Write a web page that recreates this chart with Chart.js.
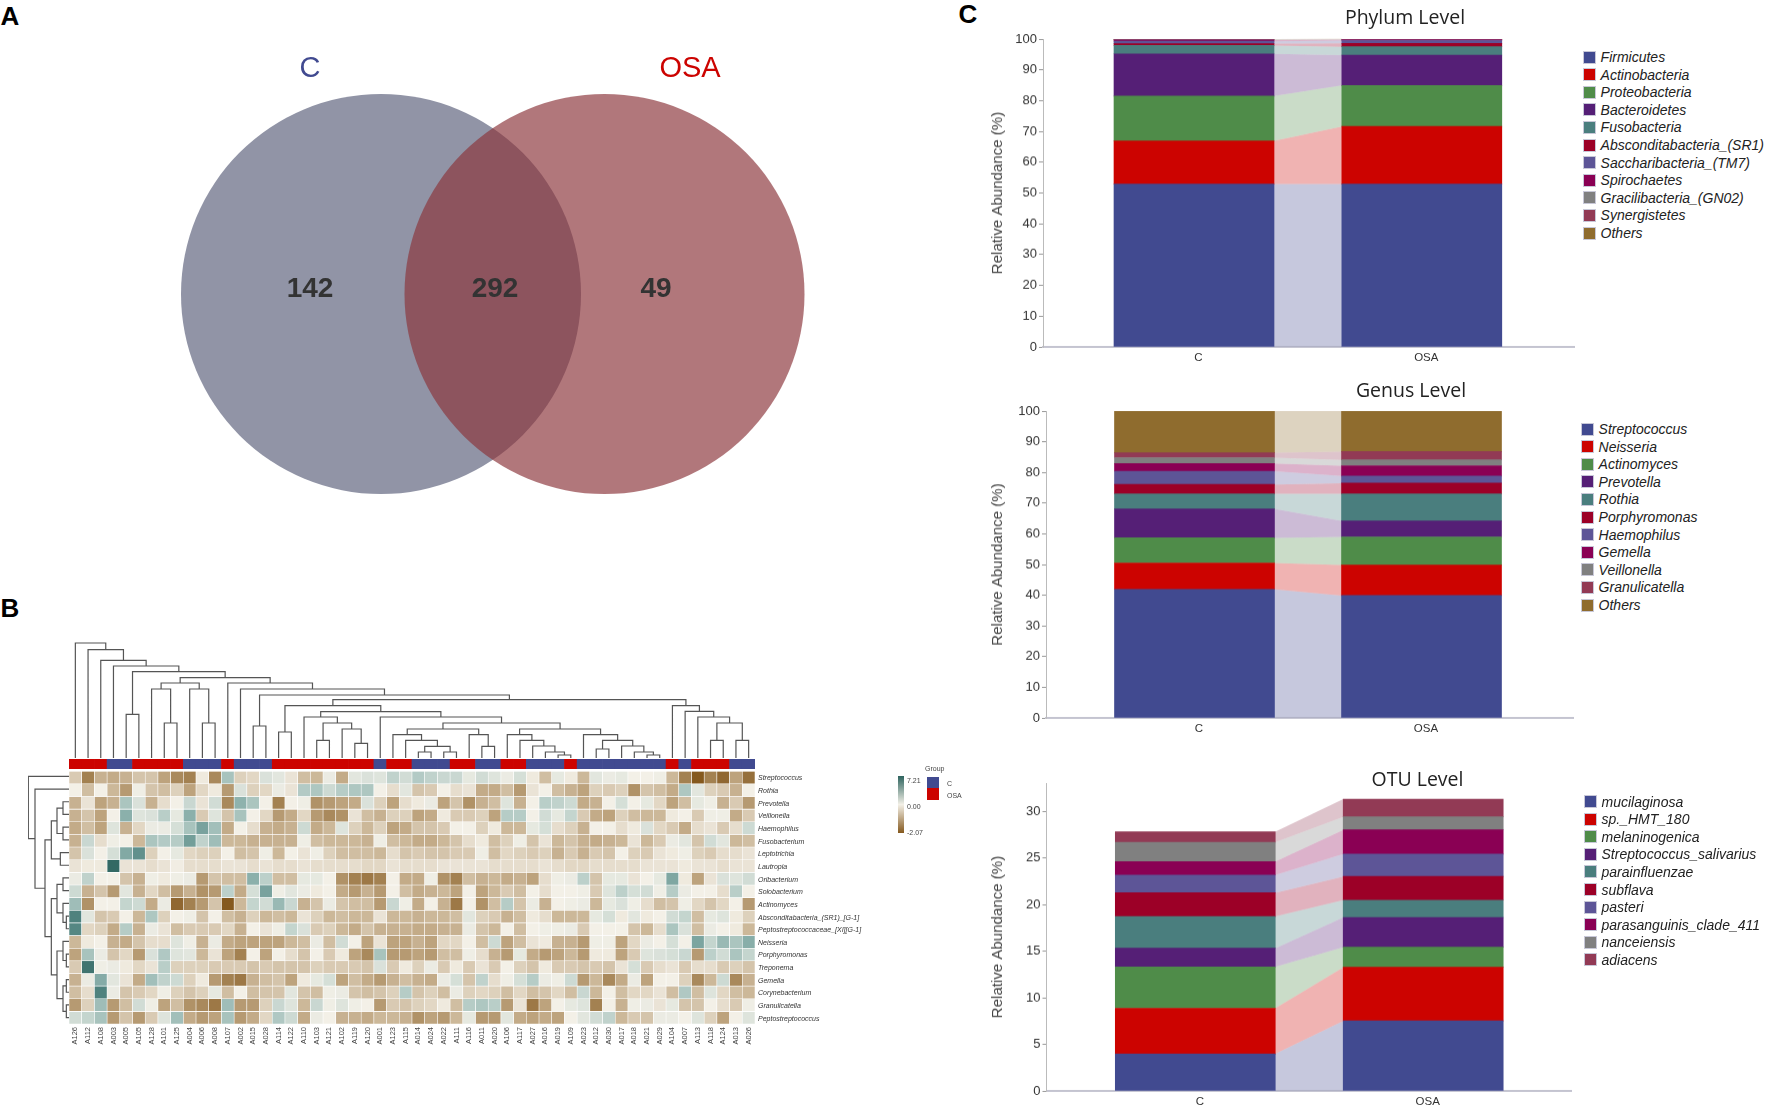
<!DOCTYPE html>
<html lang="en">
<head>
<meta charset="UTF-8">
<title>Oral microbiome: Venn, heatmap and relative abundance</title>
<script src="https://cdn.jsdelivr.net/npm/chart.js"></script>
<style>
  html, body { margin: 0; background: #fff; }
  #page { position: relative; width: 1772px; height: 1111px; overflow: hidden; font-family: "Liberation Sans", sans-serif; }
  canvas { position: absolute; }
  .t { position: absolute; white-space: nowrap; line-height: 1; }
  .mid { transform: translate(-50%, -50%); }
  .sw { position: absolute; box-sizing: border-box; }
</style>
</head>
<body>
<div id="page"></div>
<script>
// Venn
const vennSets = ['C', 'OSA'];
const vennX = [0, 223.5];
const vennR = [200, 200];
const vennFill = ['#9194a6', 'rgba(138,52,58,0.67)'];
const vennCounts = ['142', '292', '49'];

// Relative abundance
const groups = ['C', 'OSA'];
const phylumNames = ['Firmicutes', 'Actinobacteria', 'Proteobacteria', 'Bacteroidetes', 'Fusobacteria', 'Absconditabacteria_(SR1)', 'Saccharibacteria_(TM7)', 'Spirochaetes', 'Gracilibacteria_(GN02)', 'Synergistetes', 'Others'];
const phylumC = [52.9, 14.0, 14.6, 13.7, 2.7, 0.6, 0.8, 0.4, 0.1, 0.1, 0.1];
const phylumOSA = [52.9, 18.7, 13.3, 9.9, 2.7, 1.1, 0.9, 0.3, 0.1, 0.05, 0.15];
const genusNames = ['Streptococcus', 'Neisseria', 'Actinomyces', 'Prevotella', 'Rothia', 'Porphyromonas', 'Haemophilus', 'Gemella', 'Veillonella', 'Granulicatella', 'Others'];
const genusC = [41.9, 8.6, 8.2, 9.4, 4.9, 3.1, 4.3, 2.5, 1.9, 1.6, 13.6];
const genusOSA = [39.9, 9.9, 9.2, 5.2, 8.8, 3.5, 2.3, 3.4, 1.9, 2.7, 13.2];
const otuNames = ['mucilaginosa', 'sp._HMT_180', 'melaninogenica', 'Streptococcus_salivarius', 'parainfluenzae', 'subflava', 'pasteri', 'parasanguinis_clade_411', 'nanceiensis', 'adiacens'];
const otuC = [3.97, 4.91, 4.44, 2.0, 3.4, 2.55, 1.9, 1.46, 2.07, 1.12];
const otuOSA = [7.52, 5.76, 2.15, 3.19, 1.86, 2.54, 2.4, 2.61, 1.4, 1.9];
const stackColors = ['#414a90', '#cc0300', '#4f8c49', '#551f76', '#4a7e7e', '#9c0027', '#5d5597', '#8a0054', '#808080', '#923a55', '#8f6c2e'];

// Heatmap
const sampleIds = ['A126','A112','A108','A003','A005','A105','A128','A101','A125','A004','A006','A008','A107','A002','A015','A028','A114','A122','A110','A103','A121','A102','A119','A120','A001','A123','A115','A014','A024','A022','A111','A116','A011','A020','A106','A117','A027','A016','A019','A109','A023','A012','A030','A017','A018','A021','A029','A104','A007','A113','A118','A124','A013','A026'];
const sampleGroup = 'OOOCCOOOOCCCOCCCOOOOOOOOCOOCCCOOCCOOCCCOCCCCCCCOCOOOCC'.split('');
const rowNames = ['Streptococcus','Rothia','Prevotella','Veillonella','Haemophilus','Fusobacterium','Leptotrichia','Lautropia','Oribacterium','Solobacterium','Actinomyces','Absconditabacteria_(SR1)_[G-1]','Peptostreptococcaceae_[XI][G-1]','Neisseria','Porphyromonas','Treponema','Gemella','Corynebacterium','Granulicatella','Peptostreptococcus'];
const streptococcus = [-.6,-1.6,-1,-1.1,-1,-.7,-.7,-1.2,-1.5,-1.6,-.1,-1.5,2,-.5,-.4,.6,.4,-.2,-.8,-.9,.2,-1.1,.4,.6,.5,1.2,.8,1.6,1.2,1,1,.3,.8,.5,.2,.7,-.1,-.8,.3,-.1,-.9,.4,.2,.3,0,0,.1,-.9,-1.6,-2.07,-1.6,-1.9,-1.2,-1.8];
const rothia = [0,-.8,0,-.9,-1.3,.1,-.7,-.8,-.5,-1.2,-.4,-.1,-1.3,.6,-.5,-.4,.2,-.2,1.6,1.8,.9,1.5,1.8,1.8,0,-.3,.4,-.7,-.6,0,-.3,-.2,-1.1,-1.1,-.8,-1.3,-.2,0,-.8,-1,-1.2,-.5,-.6,-.5,-1.4,-.7,-.8,-1.1,1.8,.4,-.5,-.6,-1,0];
const prevotella = [-1,-.2,-1.2,-1,1.9,.6,-1,-.3,0,1,-.2,.8,-1.5,2.9,1.9,0,-1.6,0,.1,-1.4,-1.3,-1.2,-1.1,.6,-.5,-1.2,-.3,-.1,.2,-1.2,-.7,-1.4,-1,-.8,.5,-1,0,1.4,1.2,.9,-1.1,-1,0,.7,0,.3,-.4,-1.2,-.8,.3,.1,-1,-.6,-1.3];
const veillonella = [-1,-.7,-1.2,0,3,.5,.6,1.4,.3,3,-.6,.5,-.7,2,0,-.4,-1.3,-1.1,-.4,-1.3,-1.5,-1.4,-.2,-.8,-1,-.5,-.5,-1.2,-1.1,-.1,-.6,-.6,-.5,-1.2,1.5,1.5,0,.8,.3,1.1,-.6,-1.1,-1.2,-.5,-.8,-.9,-.9,-.1,0,-.6,.1,.1,-1.1,-.6];
const haemophilus = [-1.1,-.8,-1.2,.5,-1,-.4,.2,.2,.7,2,3.6,2.2,-1.1,0,-.3,-1,-1.1,-1,.9,-1.1,-.9,.5,-.5,-.9,-.5,-1.2,-1.1,-.7,-.7,-.6,0,0,-.5,-.1,-.9,-.9,.3,.7,-.3,-.5,-1,0,0,-.3,-.1,.6,-.4,-.6,-1.1,-.3,-.2,-.6,-.3,.9];
const fusobacterium = [-1,1,-.3,.1,0,-.9,1.9,1.6,1.5,3.8,1.2,2.3,-.9,-.9,-1,-1,-1,-1,.1,-.8,-.9,-.9,-.9,-1,.1,-.8,-.9,-1.1,-1.1,-.9,-.7,-.3,-.1,-.8,-.5,.1,-.7,-.2,-.9,-.7,-1,-1.1,-1,-.9,-.2,-.9,-.6,.2,.4,-.7,.8,.4,-.9,-.8];
const leptotrichia = [-.7,.6,0,.7,3.3,4.4,-.5,0,.3,-.4,-.5,-.5,0,-.8,-.7,.1,-.9,0,-.2,.1,-.5,-.8,-.8,-.8,-.9,-.3,-.7,-.6,-.7,-.7,-.6,-.6,.1,-.8,-.4,-.5,-.6,-.5,-1,-.6,-1,-.6,-.7,0,-.5,-.6,-.2,-.1,.1,-.5,-.6,-.3,-.3,-.2];
const lautropia = [-.2,-.1,-.1,6.8,-.2,-.2,-.3,-.2,-.05,-.3,-.3,-.3,-.2,-.2,-.3,-.2,-.3,-.3,-.2,-.3,-.3,-.3,-.3,-.4,-.4,-.2,-.3,-.3,-.3,-.2,-.2,-.2,-.2,-.3,-.3,-.3,-.3,-.2,-.3,-.4,-.4,-.3,-.3,-.3,-.3,-.2,-.2,-.2,-.1,-.2,-.2,-.3,-.2,-.2];
const oribacterium = [.2,1.2,0,0,-.7,-1,.1,-.1,.1,.2,-1.3,-.7,-.8,-.8,3,1.3,-.8,-.8,.3,.3,0,-1.4,-1.6,-1.7,-1.6,0,-1.1,-1.1,.1,-1.4,-1.6,-.8,-1,-.9,-1.1,-1,-1.2,-.3,.1,.2,1.3,-.7,.3,.3,-.2,0,.3,3.4,-.1,-1.2,-.2,.6,.5,.8];
const solobacterium = [.9,-1,-.7,-1.3,.4,-1,-.4,-.8,-1.3,-1,-1.4,-1.3,1.3,-1.1,.7,3.6,.1,.4,.2,-.1,0,-1.1,-1.3,-1,-1.3,0,-.8,-1.1,-1,-.9,-1.2,0,-1.2,-.9,-.6,-.8,0,-.3,0,0,.1,-.6,.5,1.3,.7,.8,.1,1.5,.2,0,0,-.3,1.4,0];
const actinomyces = [2.3,-1.4,0,0,1.1,.9,-1.1,.2,-1.9,-1.6,-1.3,-.7,-2.07,-.9,1.1,.8,2.5,1,-1,-.7,.2,-.7,-.8,-.8,-1.3,1,.1,-1.1,0,-1,-1.7,0,-1.4,-.8,1.5,-.7,.2,-1,0,.1,.2,-.9,.3,.6,.1,-.3,-.8,-.7,.1,-.4,-.7,-.4,0,-1.3];
const absconditabacteria = [5,.4,-.7,-.6,0,-.9,1.8,-.5,0,.1,-.7,0,-.8,-1,-.5,-.9,-.8,-.9,-.2,-.5,-.9,-.8,-.9,-.9,-.2,-.9,-.9,-1,-.9,-.9,-.8,.4,-.5,-.6,-1,-.8,-.1,-.3,-.9,-.9,-.9,.3,.7,-.1,.4,-.1,0,.8,1.1,-.8,.3,.5,-.1,-.5];
const peptostrepXI = [4.8,-.4,-.5,-1.1,1.5,-1,.2,-.2,-.8,-.6,-.6,-.6,-.4,-1,0,-.2,.1,1.1,.6,-.6,-.5,-.9,-1.1,-.7,-1,-1,-1,-1.1,-1.1,-1,-1,.2,-.7,-.9,0,-.8,0,.1,.1,.2,-.6,0,0,0,-.7,-.9,-.3,1.9,.6,-.8,.2,0,-.1,-.9];
const neisseria = [-.9,-.1,0,-1,-1.1,-.7,-.3,-.3,.5,.1,-1,.2,-1.1,-1.2,-1.2,-1.2,-1.2,-.9,-.8,.2,-.8,.8,0,-1.2,-.2,-1.2,-1.2,-1,-1.2,-.4,-.4,0,-.8,.9,-1.2,-.8,-.2,-.1,-1,-1,-1.3,.1,.1,-1.2,-.4,.2,0,.7,0,3.5,1.1,2.5,1.9,3.1];
const porphyromonas = [-1.2,2,.2,-.7,-.4,-1.3,.6,1.7,.5,.4,-.9,-.2,-1.2,-1.6,0,-1.2,0,-.3,-.7,0,-.6,-.1,-1.2,-1.5,2,-1.3,-1.3,-1.2,-1.3,-.8,-.8,.1,-.3,-1,-1.3,.3,-1.1,-1.3,-1.2,-.9,-1.3,-.1,-.1,-1.2,-.6,.5,.6,.7,1,-1.3,1.3,.8,1.9,1.1];
const treponema = [-.6,6,.1,.2,-.1,-.4,-.2,1.4,-.5,-.5,-.5,-.6,-.6,-.6,-.7,-.6,-.7,-.7,-.7,-.5,-.6,-.6,-.6,-.7,.6,-.6,-.1,-.5,.2,-.6,-.1,-.6,-.2,-.6,0,-.5,-.7,-.1,-.6,-.6,-.7,-.6,-.7,-.2,.7,-.6,-.3,-.2,-.6,-.3,-.3,-.6,-.5,-.7];
const gemella = [-1,.2,3.2,.4,-.2,-1.1,2.2,1.2,.9,-.5,-.1,-1.3,-1.6,-1.7,-1,-.8,-.7,-1.2,-.1,.3,.7,-1.2,-.8,-1.1,-1.3,-1,-.8,-1,-1.1,.2,.7,-.7,1.2,-.3,.1,.7,1.5,.2,.1,.9,-1.3,-.9,-1.5,-1.1,.2,-1.2,0,0,-.5,-1.5,-.9,.9,-1.5,-1];
const corynebacterium = [-.8,-.3,5,.2,-.7,-.6,-.4,.1,-.5,-.7,-.5,.3,-.8,0,-.8,-.7,-.7,.4,-.7,-.8,.1,.2,-.7,-.8,-.7,-.5,1.5,-.7,-.5,-.8,.2,-.5,-.4,-.5,-.8,-.4,-.8,-.7,-.4,-.8,1,-.9,0,-.8,-.4,-.4,-.2,-.8,1.7,-.8,.5,-.4,-.8,-.9];
const granulicatella = [-1.3,-.5,2.3,-1.3,-.8,.8,.1,-1.2,-.8,-1.4,-1.5,-1.7,2.3,-1.3,-1.3,-.5,1,.5,-.9,1,.1,.5,.1,0,-1.3,-.6,-.7,-.5,-.4,-.1,-.8,1.5,1.8,1.4,-1.3,-.2,-1.7,-1.2,0,.3,.5,-1.6,0,-1,.1,.2,-.2,.3,-.7,-.7,0,-.3,-.6,.1];
const peptostreptococcus = [.8,1.1,2,-1.3,-.7,-1.3,-.6,.5,2.2,-1.1,-1.3,-1.2,2,-1.3,-1.1,-.4,1.7,.9,-1.1,.2,0,-1,-1,-1.1,-.9,-.9,-1,-1.4,-1.2,-1.3,-.9,.3,-1.3,-1.3,.4,-1.1,-1.2,-1.1,-1.2,0,.4,.8,1.2,-.9,-.6,-.7,.2,.2,0,.5,-.5,-1.2,0,.5];
const heatRows = [streptococcus, rothia, prevotella, veillonella, haemophilus, fusobacterium, leptotrichia, lautropia, oribacterium, solobacterium, actinomyces, absconditabacteria, peptostrepXI, neisseria, porphyromonas, treponema, gemella, corynebacterium, granulicatella, peptostreptococcus];
const heatStops = [[-2.07, [133, 89, 30]], [-1.1, [195, 171, 136]], [0, [243, 240, 231]], [1.3, [188, 208, 202]], [3, [139, 176, 171]], [5, [79, 130, 126]], [7.21, [45, 99, 94]]];

// dendrograms: [height, left, right], a bare number is a leaf
const colTree = [345, 0, [325, 1, [293, 2, [276, 3, [259, [131, 4, 5], [241, [225, [207, 6, [105, 7, 8]], [207, 9, [105, 10, 11]]], [225, 12, [207, 13, [189, [96, 14, 15],
  [175, [157, [78, 16, 17], [139, [123, 18, [105, [53, 19, 20], [87, 21, [44, 22, 23]]]], [123, 24, [105, [87, [70, 25, [53, 26, [35, [18, 27, 28], [18, 29, 30]]]], [70, 31, [35, 32, 33]]], [87, [70, 34, [53, 35, [36, 36, [18, 37, [9, 38, 39]]]]], [70, 40, [53, [27, 41, 42], [36, 43, [18, 44, [9, 45, 46]]]]]]]]]],
  [157, 47, [140, 48, [123, 49, [105, [53, 50, 51], [53, 52, 53]]]]]]]]]]]]]]];
const rowTree = [122, 0, [102, 1, [72, [53, [36, [18, 2, 3], [18, 4, 5]], [26, 6, 7]], [53, [36, [18, 8, 9], [18, 10, [8, 11, 12]]], [36, [18, 13, [8, 14, 15]], [18, [8, 16, 17], [8, 18, 19]]]]]]];

const page = document.getElementById('page');
Chart.defaults.animation = false;
Chart.defaults.responsive = false;
Chart.defaults.devicePixelRatio = 1;
Chart.defaults.layout.autoPadding = false;
Chart.defaults.font.family = '"Liberation Sans", sans-serif';
Chart.defaults.plugins.legend.display = false;
Chart.defaults.plugins.tooltip.enabled = false;

function canvasAt(l, t, w, h) {
  const c = document.createElement('canvas');
  c.width = w; c.height = h;
  c.style.left = l + 'px'; c.style.top = t + 'px';
  c.style.width = w + 'px'; c.style.height = h + 'px';
  page.appendChild(c);
  return c.getContext('2d');
}

function label(text, x, y, css) {
  const d = document.createElement('div');
  d.className = 't mid';
  d.textContent = text;
  d.style.cssText = 'left:' + x + 'px;top:' + y + 'px;' + css;
  page.appendChild(d);
  return d;
}

function leftLabel(text, x, y, css) {
  const d = label(text, x, y, css);
  d.style.transform = 'translateY(-50%)';
  return d;
}

function heatColor(v) {
  for (let i = 1; i < heatStops.length; i++) {
    if (v <= heatStops[i][0]) {
      const [a, ca] = heatStops[i - 1], [b, cb] = heatStops[i];
      const k = (v - a) / (b - a);
      return 'rgb(' + ca.map((c, j) => Math.round(c + (cb[j] - c) * k)).join(',') + ')';
    }
  }
  return 'rgb(45,99,94)';
}

// walks a dendrogram and returns its brackets as line points with breaks
function treePoints(node, out) {
  if (typeof node === 'number') return { pos: node, h: 0 };
  const l = treePoints(node[1], out), r = treePoints(node[2], out);
  out.push([l.pos, l.h], [l.pos, node[0]], [r.pos, node[0]], [r.pos, r.h], [r.pos, null]);
  return { pos: (l.pos + r.pos) / 2, h: node[0] };
}

// ---------- A: Venn ----------
new Chart(canvasAt(156, 79, 670, 430), {
  type: 'bubble',
  data: {
    datasets: vennSets.map((s, i) => ({
      label: s,
      data: [{ x: vennX[i], y: 0, r: vennR[i] }],
      backgroundColor: vennFill[i],
      borderWidth: 0,
      order: vennSets.length - i,
      clip: false
    }))
  },
  options: {
    scales: {
      x: { display: false, min: -225, max: 445 },
      y: { display: false, min: -215, max: 215 }
    }
  }
});
label('A', 10, 16, 'font:bold 26px "Liberation Sans";color:#000');
label('B', 10, 608, 'font:bold 26px "Liberation Sans";color:#000');
label('C', 968, 14, 'font:bold 26px "Liberation Sans";color:#000');
label(vennSets[0], 310, 67, 'font:29px "Liberation Sans";color:#414a90');
label(vennSets[1], 690, 67, 'font:29px "Liberation Sans";color:#cc0300');
label(vennCounts[0], 310, 288, 'font:bold 28px "Liberation Sans";color:#333');
label(vennCounts[1], 495, 288, 'font:bold 28px "Liberation Sans";color:#333');
label(vennCounts[2], 656, 288, 'font:bold 28px "Liberation Sans";color:#333');

// ---------- B: heatmap ----------
const heatL = 69.3, heatW = 686, heatT = 770, heatH = 254.4;

const colPts = [];
treePoints(colTree, colPts);
new Chart(canvasAt(heatL, 642, heatW, 116), {
  type: 'scatter',
  data: { datasets: [{
    data: colPts.map(p => ({ x: p[0], y: p[1] })),
    showLine: true, spanGaps: false, pointRadius: 0, borderColor: '#555', borderWidth: 1.2, clip: false
  }] },
  options: { scales: {
    x: { display: false, min: -0.5, max: 53.5 },
    y: { display: false, min: 0, max: 348 }
  } }
});

const rowPts = [];
treePoints(rowTree, rowPts);
new Chart(canvasAt(heatL - 41, heatT, 41, heatH), {
  type: 'scatter',
  data: { datasets: [{
    data: rowPts.map(p => ({ x: p[1] === null ? p[0] : p[1], y: p[1] === null ? null : p[0] })),
    showLine: true, spanGaps: false, pointRadius: 0, borderColor: '#555', borderWidth: 1.2, clip: false
  }] },
  options: { scales: {
    x: { display: false, min: 0, max: 123, reverse: true },
    y: { display: false, min: -0.5, max: 19.5, reverse: true }
  } }
});

new Chart(canvasAt(heatL, 759, heatW, 9.5), {
  type: 'bar',
  data: {
    labels: sampleIds,
    datasets: [{
      data: sampleIds.map(() => 1),
      backgroundColor: sampleGroup.map(g => g === 'C' ? '#414a90' : '#cc0300'),
      barPercentage: 1, categoryPercentage: 1
    }]
  },
  options: { scales: { x: { display: false }, y: { display: false, min: 0, max: 1 } } }
});

new Chart(canvasAt(heatL - 10, heatT - 6, 10 + heatW + 120, 6 + heatH + 24), {
  type: 'bar',
  data: {
    labels: sampleIds,
    datasets: rowNames.map((name, i) => ({
      label: name,
      data: heatRows[i].map(() => 1),
      backgroundColor: heatRows[i].map(heatColor),
      borderColor: '#fff', borderWidth: 0.6, borderSkipped: false,
      barPercentage: 1, categoryPercentage: 1
    }))
  },
  options: {
    layout: { padding: { left: 10, top: 6 } },
    scales: {
      x: {
        stacked: true,
        grid: { display: false, tickLength: 0 }, border: { display: false },
        ticks: { autoSkip: false, minRotation: 90, maxRotation: 90, padding: 3, font: { size: 7.5 }, color: '#444' },
        afterFit: s => { s.height = 24; }
      },
      y: {
        stacked: true, reverse: true, min: 0, max: 20, position: 'right',
        grid: { display: false, tickLength: 0 }, border: { display: false },
        afterBuildTicks: s => { s.ticks = rowNames.map((n, i) => ({ value: i + 0.5 })); },
        ticks: {
          autoSkip: false, padding: 3, labelOffset: 1, color: '#333', font: { size: 7, style: 'italic' },
          callback: (v, i) => rowNames[i]
        },
        afterFit: s => { s.width = 120; }
      }
    }
  }
});

// heat scale and group key
const bar = document.createElement('div');
bar.className = 'sw';
bar.style.cssText = 'left:898px;top:776px;width:6px;height:57px;background:linear-gradient(#2d635e,#f3f0e7 50%,#85591e)';
page.appendChild(bar);
leftLabel('7.21', 907, 780, 'font:7px "Liberation Sans";color:#444');
leftLabel('0.00', 907, 806, 'font:7px "Liberation Sans";color:#444');
leftLabel('-2.07', 907, 832, 'font:7px "Liberation Sans";color:#444');
leftLabel('Group', 925, 768, 'font:7px "Liberation Sans";color:#444');
['#414a90', '#cc0300'].forEach((c, i) => {
  const s = document.createElement('div');
  s.className = 'sw';
  s.style.cssText = 'left:927px;top:' + (777 + i * 11.3) + 'px;width:12px;height:11.3px;background:' + c;
  page.appendChild(s);
  leftLabel(groups[i], 947, 783 + i * 11.5, 'font:7px "Liberation Sans";color:#444');
});

// ---------- C: stacked bars ----------
// bands between the two bars of each layer, taken from the bars the library placed
const flowPlugin = {
  id: 'flow',
  beforeDatasetsDraw(chart) {
    const ctx = chart.ctx;
    chart.data.datasets.forEach((ds, i) => {
      const [a, b] = chart.getDatasetMeta(i).data;
      const ax = a.x + a.width / 2, bx = b.x - b.width / 2;
      ctx.fillStyle = ds.backgroundColor + '4d';
      ctx.beginPath();
      ctx.moveTo(ax, a.y);
      ctx.lineTo(bx, b.y);
      ctx.lineTo(bx, b.base);
      ctx.lineTo(ax, a.base);
      ctx.closePath();
      ctx.fill();
    });
  }
};

function stackPanel(cfg) {
  const canvasL = 985, canvasT = cfg.top - 12, canvasB = cfg.bottom + 22;
  const spacing = cfg.osaX - cfg.cX;
  const xMin = (cfg.left - cfg.cX) / spacing, xMax = (cfg.right - cfg.cX) / spacing;
  new Chart(canvasAt(canvasL, canvasT, cfg.right - canvasL, canvasB - canvasT), {
    type: 'bar',
    data: {
      datasets: cfg.names.map((name, i) => ({
        label: name,
        data: [{ x: 0, y: cfg.c[i] }, { x: 1, y: cfg.osa[i] }],
        backgroundColor: stackColors[i],
        barThickness: 160
      }))
    },
    options: {
      layout: { padding: { top: 12 } },
      scales: {
        x: {
          type: 'linear', stacked: true, offset: false, min: xMin, max: xMax,
          grid: {
            offset: false, drawOnChartArea: false, tickLength: 4,
            tickColor: c => c.tick && c.tick.value === xMax ? '#bbb' : 'transparent'
          },
          border: { color: '#c4c4d0', width: 2 },
          afterBuildTicks: s => { s.ticks = [{ value: 0 }, { value: 1 }, { value: xMax }]; },
          ticks: {
            autoSkip: false, maxRotation: 0, padding: 0, labelOffset: 4.5, color: '#333', font: { size: 11.5 },
            callback: (v, i) => groups[i] || ''
          },
          afterFit: s => { s.height = 22; }
        },
        y: {
          stacked: true, min: 0, max: cfg.max,
          grid: { drawOnChartArea: false, tickLength: 4, tickColor: '#999' },
          border: { color: '#bbb', width: 1 },
          ticks: { stepSize: cfg.step, includeBounds: false, padding: 2, color: '#333', font: { size: 13 } },
          title: { display: true, text: 'Relative Abundance (%)', color: '#444', font: { size: 15 } },
          afterFit: s => { s.width = cfg.left - canvasL; }
        }
      }
    },
    plugins: [flowPlugin]
  });
  label(cfg.title, cfg.titleX, cfg.titleY, 'font:19.5px "Open Sans";color:#222');
  cfg.names.forEach((name, i) => {
    const s = document.createElement('div');
    s.className = 'sw';
    s.style.cssText = 'left:' + cfg.keyX + 'px;top:' + (cfg.keyY + i * 17.6) + 'px;width:13px;height:13px;border:1px solid #c8c8d8;background:' + stackColors[i];
    page.appendChild(s);
    leftLabel(name, cfg.keyX + 18, cfg.keyY + 6.5 + i * 17.6, 'font:italic 14px "Liberation Sans";color:#222');
  });
}

stackPanel({ title: 'Phylum Level', titleX: 1405, titleY: 16, names: phylumNames, c: phylumC, osa: phylumOSA,
  left: 1043, right: 1575, top: 39.3, bottom: 346.7, max: 100, step: 10, cX: 1194, osaX: 1421.8, keyX: 1582.6, keyY: 50.5 });
stackPanel({ title: 'Genus Level', titleX: 1411, titleY: 389, names: genusNames, c: genusC, osa: genusOSA,
  left: 1046, right: 1574, top: 411.3, bottom: 717.7, max: 100, step: 10, cX: 1194.5, osaX: 1421.5, keyX: 1580.6, keyY: 422.5 });
stackPanel({ title: 'OTU Level', titleX: 1417.5, titleY: 778, names: otuNames, c: otuC, osa: otuOSA,
  left: 1046.5, right: 1572, top: 783.3, bottom: 1091, max: 33.05, step: 5, cX: 1195.3, osaX: 1423.2, keyX: 1583.5, keyY: 795 });
</script>
</body>
</html>
